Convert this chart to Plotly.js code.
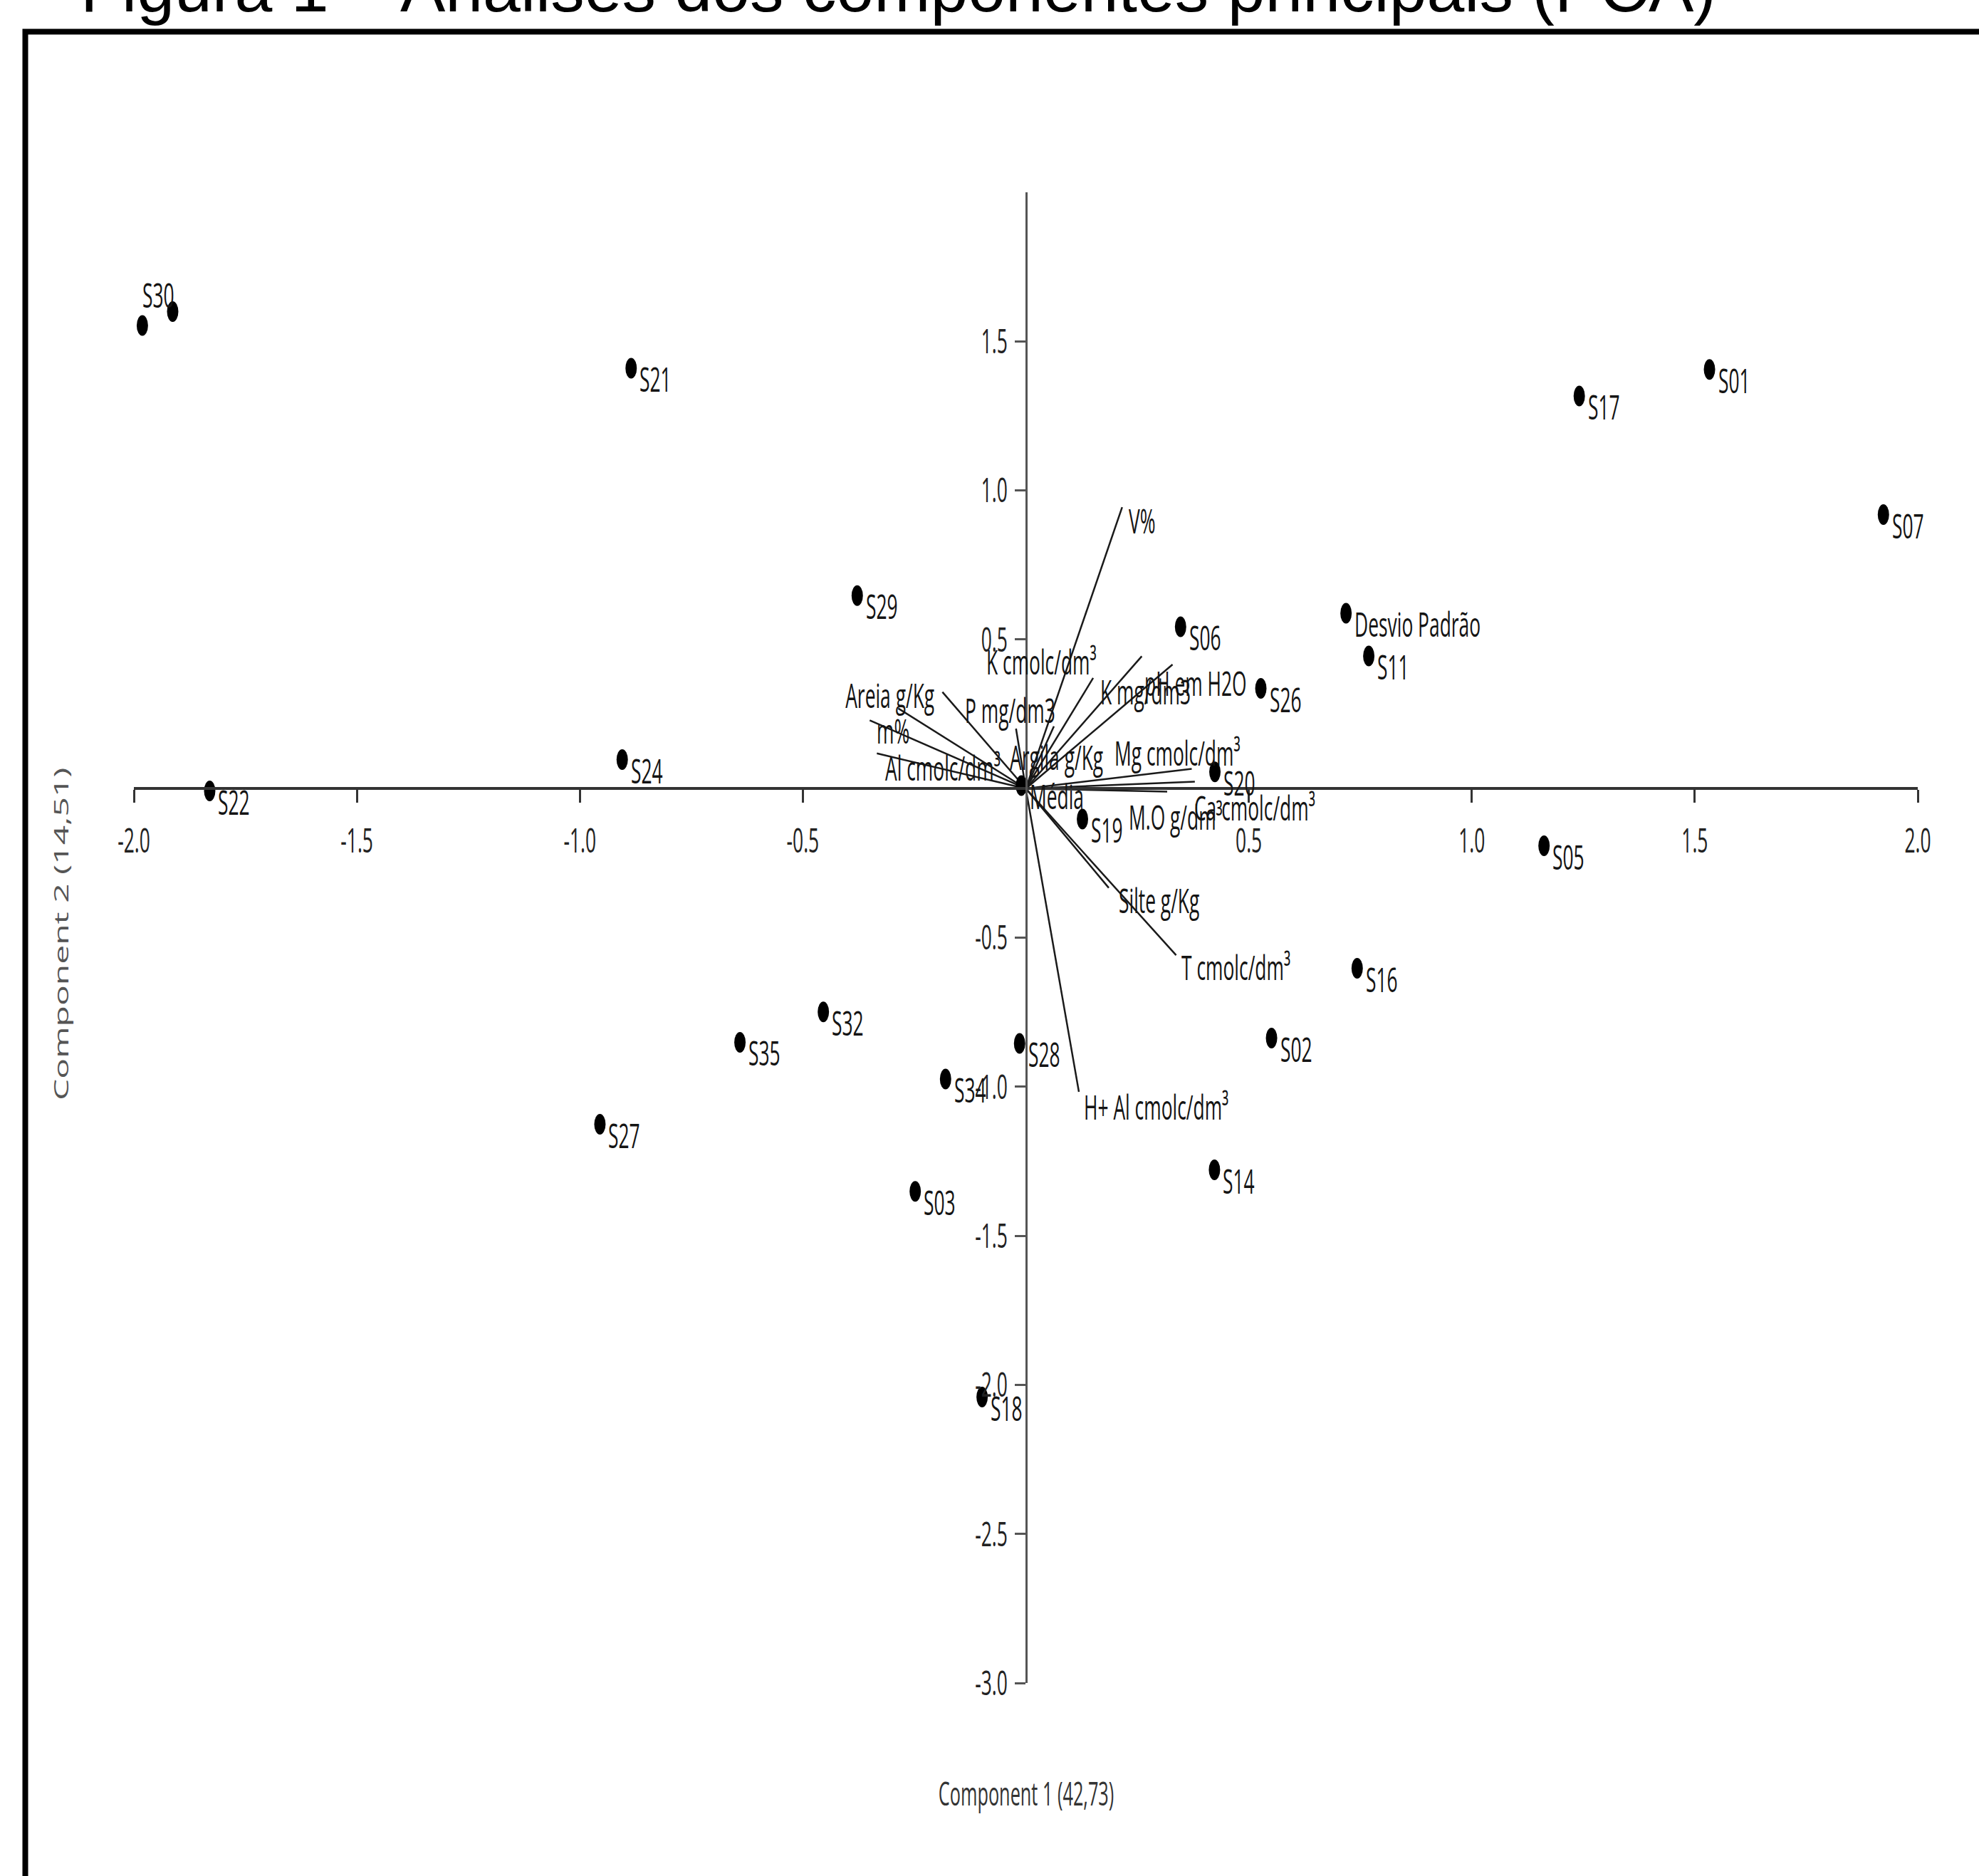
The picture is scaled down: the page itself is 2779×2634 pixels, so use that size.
<!DOCTYPE html>
<html>
<head>
<meta charset="utf-8">
<script src="https://cdn.plot.ly/plotly-3.0.1.min.js"></script>
<style>
html,body{margin:0;padding:0;background:#fff;}
#chart{width:2779px;height:2634px;}
</style>
</head>
<body>
<div id="chart"></div>
<script>
// ---------------- DATA ----------------
const chartTitle = "Figura 1 – Análises dos componentes principais (PCA)";
const xAxisTitle = "Component 1 (42,73)";
const yAxisTitle = "Component 2 (14,51)";

const pointNames = ["S30","","S21","S29","S24","S22","S32","S35","S27","S34","S28","S03","S18","S19","Média","S06","S26","S20","Desvio Padrão","S11","S02","S14","S16","S05","S17","S01","S07"];
const pointPC1 = [-1.981,-1.913,-0.885,-0.378,-0.905,-1.830,-0.454,-0.641,-0.955,-0.180,-0.014,-0.248,-0.098,0.127,-0.010,0.347,0.527,0.424,0.718,0.769,0.551,0.423,0.743,1.162,1.241,1.533,1.923];
const pointPC2 = [1.553,1.600,1.410,0.647,0.097,-0.008,-0.749,-0.851,-1.126,-0.974,-0.855,-1.351,-2.041,-0.102,0.010,0.543,0.336,0.056,0.588,0.445,-0.837,-1.279,-0.603,-0.192,1.317,1.406,0.919];

const varNames = ["V%","K cmolc/dm³","P mg/dm3","Areia g/Kg","m%","Al cmolc/dm³","Argila g/Kg","K mg/dm3","pH em H2O","","Mg cmolc/dm³","Ca cmolc/dm³","M.O g/dm³","Silte g/Kg","T cmolc/dm³","H+ Al cmolc/dm³"];
const varPC1 = [0.216,0.063,-0.187,-0.286,-0.350,-0.334,-0.022,0.151,0.260,0.329,0.372,0.379,0.317,0.186,0.337,0.119];
const varPC2 = [0.944,0.209,0.324,0.269,0.229,0.118,0.201,0.371,0.444,0.416,0.066,0.023,-0.010,-0.333,-0.559,-1.017];

const xTickVals = [-2,-1.5,-1,-0.5,0.5,1,1.5,2];
const xTickText = ["-2.0","-1.5","-1.0","-0.5","0.5","1.0","1.5","2.0"];
const yTickVals = [-3,-2.5,-2,-1.5,-1,-0.5,0.5,1,1.5];
const yTickText = ["-3.0","-2.5","-2.0","-1.5","-1.0","-0.5","0.5","1.0","1.5"];

// ---------------- STYLE (label placement offsets in pixels) ----------------
const FONT = "Open Sans, Noto Sans, DejaVu Sans, sans-serif";
const LABEL_SIZE = 48;
const SQ = 0.55; // horizontal squeeze of the (vertically stretched) original picture
const TOPGAP = 18; // gap between annotation box top and cap height
const varLabelStyle = [
  {dx:7, dy:2}, {dx:-97, dy:-108}, {dx:30, dy:8}, {dx:-12, dy:0, xa:"center", ya:"bottom"},
  {dx:8, dy:-2}, {dx:10, dy:3}, {dx:-11, dy:23}, {dx:8, dy:2}, {dx:2, dy:21}, {dx:0, dy:0},
  {dx:-110, dy:-40}, {dx:-3, dy:19}, {dx:-56, dy:19}, {dx:12, dy:0}, {dx:5, dy:0}, {dx:5, dy:4}
];
const pointLabelDefault = {dx:10, dy:-2};
const pointLabelOverride = {"S30": {dx:-2, dy:-60}};

// ---------------- GEOMETRY ----------------
const W = 2779, H = 2634;
const M = {l:188, r:86, t:270, b:271};
const PW = W - M.l - M.r, PH = H - M.t - M.b;
const XR = [-2, 2], YR = [-3, 2];
const px2paperX = p => (p - M.l) / PW;
const px2paperY = p => (H - M.b - p) / PH;

// vectors: origin -> loading
const vx = [], vy = [];
varNames.forEach((n, i) => { vx.push(0, varPC1[i], null); vy.push(0, varPC2[i], null); });

const traces = [
  {type:"scatter", mode:"lines", x:vx, y:vy, line:{color:"#1a1a1a", width:2.5},
   hoverinfo:"skip", showlegend:false, cliponaxis:false},
  {type:"scatter", mode:"markers", x:pointPC1, y:pointPC2, text:pointNames,
   marker:{color:"#000", size:29}, hoverinfo:"text", showlegend:false, cliponaxis:false}
];

const annotations = [];
function labelAnn(x, y, text, st, size) {
  const xa = st.xa || "left", ya = st.ya || "top";
  const yshift = ya === "top" ? TOPGAP - st.dy : -(st.dy + 15);
  return {xref:"x", yref:"y", x:x, y:y, text:text, showarrow:false,
          xanchor:xa, yanchor:ya, align:xa, xshift:st.dx, yshift:yshift,
          font:{family:FONT, size:size, color:"#141414"}};
}
pointNames.forEach((n, i) => {
  if (!n) return;
  annotations.push(labelAnn(pointPC1[i], pointPC2[i], n, pointLabelOverride[n] || pointLabelDefault, LABEL_SIZE));
});
varNames.forEach((n, i) => {
  if (!n) return;
  annotations.push(labelAnn(varPC1[i], varPC2[i], n, varLabelStyle[i], LABEL_SIZE));
});
// axis titles
annotations.push({xref:"paper", yref:"paper", x:px2paperX(1440.5), y:px2paperY(2517), text:xAxisTitle,
  showarrow:false, xanchor:"center", yanchor:"middle", font:{family:FONT, size:46, color:"#333"}});
annotations.push({xref:"paper", yref:"paper", x:px2paperX(85), y:px2paperY(1311), text:yAxisTitle,
  showarrow:false, xanchor:"center", yanchor:"middle", textangle:-90, font:{family:FONT, size:48, color:"#555"}});
// figure caption (cut off at the top, as in the reference)
annotations.push({xref:"paper", yref:"paper", x:px2paperX(111), y:px2paperY(16 - 0.3465*95), text:chartTitle,
  showarrow:false, xanchor:"left", yanchor:"middle", font:{family:"Liberation Sans, Arial, sans-serif", size:95, color:"#000"}});

const layout = {
  width:W, height:H, margin:M, paper_bgcolor:"#fff", plot_bgcolor:"#fff", showlegend:false,
  title:{text:""},
  xaxis:{range:XR, anchor:"free", position:(0 - YR[0]) / (YR[1] - YR[0]),
    showline:true, linecolor:"#333", linewidth:4, ticks:"outside", ticklen:18, tickwidth:3, tickcolor:"#333",
    tickmode:"array", tickvals:xTickVals, ticktext:xTickText, ticklabelstandoff:12,
    tickfont:{family:FONT, size:48, color:"#222"}, showgrid:false, zeroline:false, fixedrange:true},
  yaxis:{range:YR, anchor:"free", position:(0 - XR[0]) / (XR[1] - XR[0]),
    showline:true, linecolor:"#555", linewidth:3.5, ticks:"outside", ticklen:15, tickwidth:3, tickcolor:"#555",
    tickmode:"array", tickvals:yTickVals, ticktext:yTickText,
    tickfont:{family:FONT, size:48, color:"#222"}, showgrid:false, zeroline:false, fixedrange:true},
  shapes:[{type:"rect", xref:"paper", yref:"paper", x0:px2paperX(35.5), x1:1.2, y0:-0.3, y1:px2paperY(44.5),
    line:{color:"#000", width:8}, fillcolor:"rgba(0,0,0,0)", layer:"above"}],
  annotations:annotations
};

// ---------- horizontal squeeze (the original figure was stretched vertically) ----------
function squeezeEl(el, lx, ly) {
  const svg = el.ownerSVGElement;
  if (!svg) return;
  const ctm = el.getCTM(), pctm = el.parentNode.getCTM();
  if (!ctm || !pctm) return;
  const p = svg.createSVGPoint(); p.x = lx; p.y = ly;
  const sp = p.matrixTransform(ctm);
  const S = svg.createSVGMatrix().translate(sp.x, 0).scaleNonUniform(SQ, 1).translate(-sp.x, 0);
  const Mx = pctm.inverse().multiply(S).multiply(ctm);
  el.setAttribute("transform", `matrix(${Mx.a} ${Mx.b} ${Mx.c} ${Mx.d} ${Mx.e} ${Mx.f})`);
}
function squeezeAll(gd) {
  gd.querySelectorAll("svg text").forEach(t => {
    const s = t.textContent.trim();
    if (!s || s.startsWith("Figura")) return;
    let bb; try { bb = t.getBBox(); } catch (e) { return; }
    const anchor = t.getAttribute("text-anchor") || t.style.textAnchor || "start";
    const lx = anchor === "end" ? bb.x + bb.width : (anchor === "middle" ? bb.x + bb.width / 2 : bb.x);
    squeezeEl(t, lx, bb.y + bb.height / 2);
  });
  gd.querySelectorAll("path.point").forEach(pt => squeezeEl(pt, 0, 0));
}

Plotly.newPlot("chart", traces, layout, {displayModeBar:false, responsive:false, staticPlot:true})
  .then(gd => squeezeAll(gd));
</script>
</body>
</html>
